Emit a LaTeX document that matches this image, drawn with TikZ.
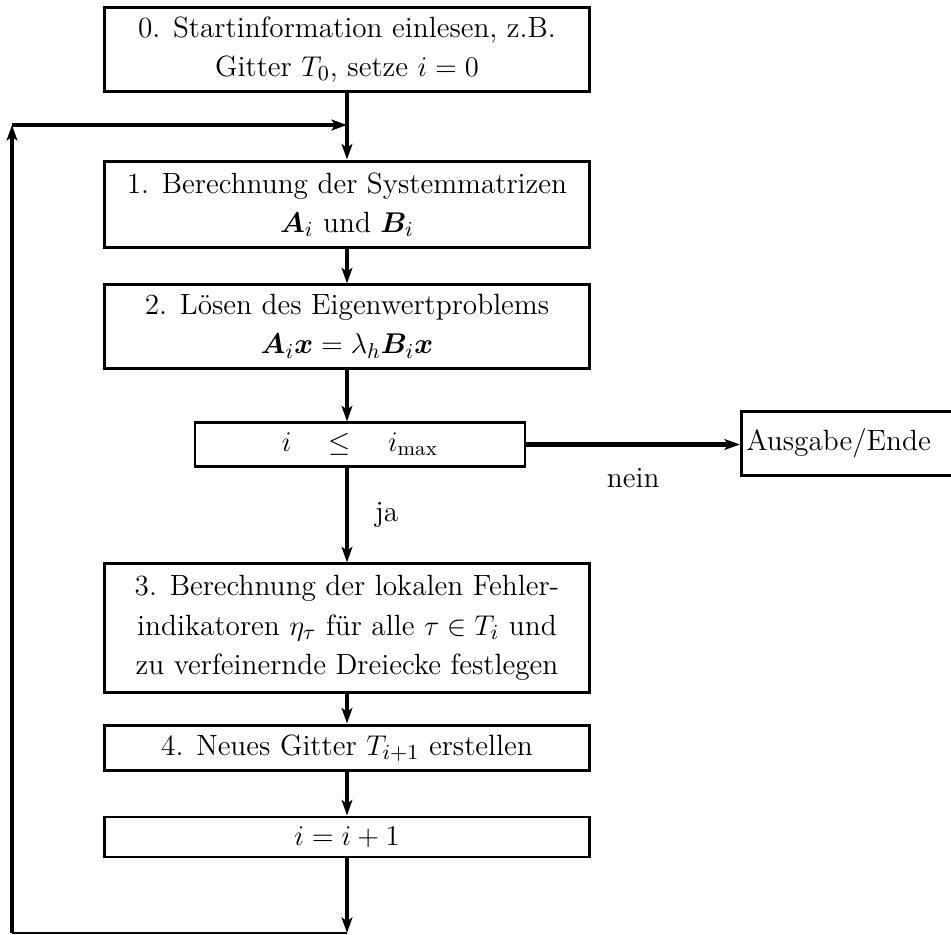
\documentclass[tikz,border=0pt]{standalone}
\usepackage{fontspec}
\usepackage{amsmath,bm}
\usetikzlibrary{arrows.meta}
\begin{document}
\begin{tikzpicture}[x=0.42pt,y=-0.42pt,font=\fontsize{12.3}{16.5}\selectfont]
\tikzstyle{box} = [draw,line width=1.25pt,align=center,inner sep=0pt,minimum width=204.1pt]
\tikzstyle{arr} = [line width=1.7pt,-{Stealth[length=6.5pt,width=4.5pt,inset=1.5pt]}]
\tikzstyle{lbl} = [inner sep=1pt]
\useasboundingbox (0,0) rectangle (951,935);
\node[box,minimum height=34.9pt] (s0) at (347,49.5) {0. Startinformation einlesen, z.B.\\Gitter $T_0$, setze $i=0$};
\node[box,minimum height=36.5pt] (s1) at (347,204.5) {1. Berechnung der Systemmatrizen\\$\bm{A}_i$ und $\bm{B}_i$};
\node[box,minimum height=34.9pt] (s2) at (347,326.5) {2. L\"osen des Eigenwertproblems\\$\bm{A}_i\bm{x}=\lambda_h\bm{B}_i\bm{x}$};
\node[box,minimum width=138.6pt,minimum height=18.1pt] (test) at (360,444.5) {$i\quad\leq\quad i_{\max}$};
\node[box,minimum width=0pt,inner xsep=2pt,text width=95pt,align=left,anchor=west,minimum height=26.5pt] (out) at (740,443.5) {Ausgabe/Ende};
\node[box,minimum height=53.8pt] (s3) at (347,628) {3. Berechnung der lokalen Fehler-\\indikatoren $\eta_\tau$ f\"ur alle $\tau\in T_i$ und\\zu verfeinernde Dreiecke festlegen};
\node[box,minimum height=19.3pt] (s4) at (347,748) {4. Neues Gitter $T_{i+1}$ erstellen};
\node[box,minimum height=16.8pt] (s5) at (347,837) {$i=i+1$};
\coordinate (jn) at (347,125);
\coordinate (tl) at (12,125);
\coordinate (bl) at (12,933);
\coordinate (br) at (347,933);
\draw[arr] (s0) -- (s1);
\draw[arr] (s1) -- (s2);
\draw[arr] (s2) -- (s2 |- test.north);
\draw[arr] (s2 |- test.south) -- node[lbl,right=10pt] {ja} (s3);
\draw[arr] (test.east) -- node[lbl,below=8pt] {nein} (test.east -| out.west);
\draw[arr] (s3) -- (s4);
\draw[arr] (s4) -- (s5);
\draw[arr] (s5) -- (br);
\draw[line width=0.85pt] (br) -- (bl);
\draw[arr] (bl) -- (tl);
\draw[arr] (tl) -- (jn);
\end{tikzpicture}
\end{document}
